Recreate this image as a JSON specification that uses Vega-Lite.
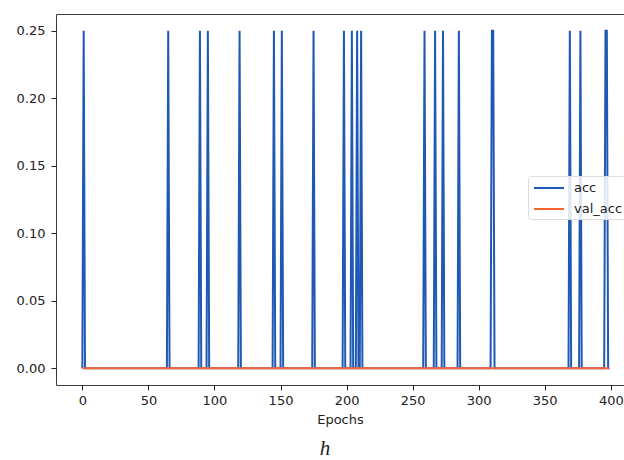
{
  "$schema": "https://vega.github.io/schema/vega-lite/v6.json",
  "autosize": {"type": "none"},
  "padding": {"left": 56, "top": 14, "right": 0, "bottom": 75},
  "width": 568,
  "height": 371,
  "background": "white",
  "config": {
    "view": {"stroke": "#3a3a3a", "strokeWidth": 1},
    "font": "DejaVu Sans",
    "axis": {"grid": false, "domain": false, "tickColor": "#222", "tickSize": 5, "labelColor": "#222", "labelFontSize": 13, "labelFont": "DejaVu Sans", "titleFont": "DejaVu Sans", "titleFontWeight": "normal", "titleFontSize": 13, "titleColor": "#222"}
  },
  "title": {"text": "h", "orient": "bottom", "anchor": "middle", "font": "Liberation Serif", "fontStyle": "italic", "fontWeight": "normal", "fontSize": 21, "color": "#222", "dx": -15, "offset": 12},
  "data": {"values": [
    {"epoch": 0, "series": "acc", "value": 0},
    {"epoch": 1, "series": "acc", "value": 0.25},
    {"epoch": 2, "series": "acc", "value": 0},
    {"epoch": 64, "series": "acc", "value": 0},
    {"epoch": 65, "series": "acc", "value": 0.25},
    {"epoch": 66, "series": "acc", "value": 0},
    {"epoch": 88, "series": "acc", "value": 0},
    {"epoch": 89, "series": "acc", "value": 0.25},
    {"epoch": 90, "series": "acc", "value": 0},
    {"epoch": 94, "series": "acc", "value": 0},
    {"epoch": 95, "series": "acc", "value": 0.25},
    {"epoch": 96, "series": "acc", "value": 0},
    {"epoch": 118, "series": "acc", "value": 0},
    {"epoch": 119, "series": "acc", "value": 0.25},
    {"epoch": 120, "series": "acc", "value": 0},
    {"epoch": 144, "series": "acc", "value": 0},
    {"epoch": 145, "series": "acc", "value": 0.25},
    {"epoch": 146, "series": "acc", "value": 0},
    {"epoch": 150, "series": "acc", "value": 0},
    {"epoch": 151, "series": "acc", "value": 0.25},
    {"epoch": 152, "series": "acc", "value": 0},
    {"epoch": 174, "series": "acc", "value": 0},
    {"epoch": 175, "series": "acc", "value": 0.25},
    {"epoch": 176, "series": "acc", "value": 0},
    {"epoch": 197, "series": "acc", "value": 0},
    {"epoch": 198, "series": "acc", "value": 0.25},
    {"epoch": 199, "series": "acc", "value": 0},
    {"epoch": 203, "series": "acc", "value": 0},
    {"epoch": 204, "series": "acc", "value": 0.25},
    {"epoch": 205, "series": "acc", "value": 0},
    {"epoch": 207, "series": "acc", "value": 0},
    {"epoch": 208, "series": "acc", "value": 0.25},
    {"epoch": 209, "series": "acc", "value": 0},
    {"epoch": 210, "series": "acc", "value": 0},
    {"epoch": 211, "series": "acc", "value": 0.25},
    {"epoch": 212, "series": "acc", "value": 0},
    {"epoch": 258, "series": "acc", "value": 0},
    {"epoch": 259, "series": "acc", "value": 0.25},
    {"epoch": 260, "series": "acc", "value": 0},
    {"epoch": 266, "series": "acc", "value": 0},
    {"epoch": 267, "series": "acc", "value": 0.25},
    {"epoch": 268, "series": "acc", "value": 0},
    {"epoch": 272, "series": "acc", "value": 0},
    {"epoch": 273, "series": "acc", "value": 0.25},
    {"epoch": 274, "series": "acc", "value": 0},
    {"epoch": 284, "series": "acc", "value": 0},
    {"epoch": 285, "series": "acc", "value": 0.25},
    {"epoch": 286, "series": "acc", "value": 0},
    {"epoch": 309, "series": "acc", "value": 0},
    {"epoch": 310, "series": "acc", "value": 0.25},
    {"epoch": 311, "series": "acc", "value": 0.25},
    {"epoch": 312, "series": "acc", "value": 0},
    {"epoch": 368, "series": "acc", "value": 0},
    {"epoch": 369, "series": "acc", "value": 0.25},
    {"epoch": 370, "series": "acc", "value": 0},
    {"epoch": 376, "series": "acc", "value": 0},
    {"epoch": 377, "series": "acc", "value": 0.25},
    {"epoch": 378, "series": "acc", "value": 0},
    {"epoch": 395, "series": "acc", "value": 0},
    {"epoch": 396, "series": "acc", "value": 0.25},
    {"epoch": 397, "series": "acc", "value": 0.25},
    {"epoch": 398, "series": "acc", "value": 0},
    {"epoch": 399, "series": "acc", "value": 0},
    {"epoch": 0, "series": "val_acc", "value": 0},
    {"epoch": 100, "series": "val_acc", "value": 0},
    {"epoch": 200, "series": "val_acc", "value": 0},
    {"epoch": 300, "series": "val_acc", "value": 0},
    {"epoch": 399, "series": "val_acc", "value": 0}
  ]},
  "layer": [
    {
      "transform": [{"filter": "datum.series === 'acc'"}],
      "mark": {"type": "line", "strokeWidth": 2, "clip": true},
      "encoding": {
        "x": {"field": "epoch", "type": "quantitative", "scale": {"domain": [-19.95, 410], "nice": false, "zero": false}, "axis": {"values": [0, 50, 100, 150, 200, 250, 300, 350, 400], "format": "d", "title": "Epochs", "titlePadding": 6, "labelPadding": 4}},
        "y": {"field": "value", "type": "quantitative", "scale": {"domain": [-0.0125, 0.2625], "nice": false, "zero": false}, "axis": {"values": [0, 0.05, 0.1, 0.15, 0.2, 0.25], "format": ".2f", "title": null, "labelPadding": 6}},
        "color": {"field": "series", "type": "nominal", "scale": {"domain": ["acc", "val_acc"], "range": ["#1f58b5", "#f86430"]},
          "legend": {"title": null, "orient": "none", "legendX": 472, "legendY": 162, "symbolType": "M-1.875,0H1.875", "symbolSize": 256, "symbolOffset": 9, "symbolStrokeWidth": 2, "symbolFillColor": "transparent", "labelFontSize": 13, "labelFont": "DejaVu Sans", "labelColor": "#222", "labelOffset": 16, "padding": 3, "rowPadding": 5, "fillColor": "rgba(255,255,255,0.85)", "strokeColor": "#dddddd", "cornerRadius": 3}}
      }
    },
    {
      "transform": [{"filter": "datum.series === 'val_acc'"}],
      "mark": {"type": "line", "strokeWidth": 2, "clip": true},
      "encoding": {
        "x": {"field": "epoch", "type": "quantitative"},
        "y": {"field": "value", "type": "quantitative"},
        "color": {"field": "series", "type": "nominal"}
      }
    }
  ]
}
